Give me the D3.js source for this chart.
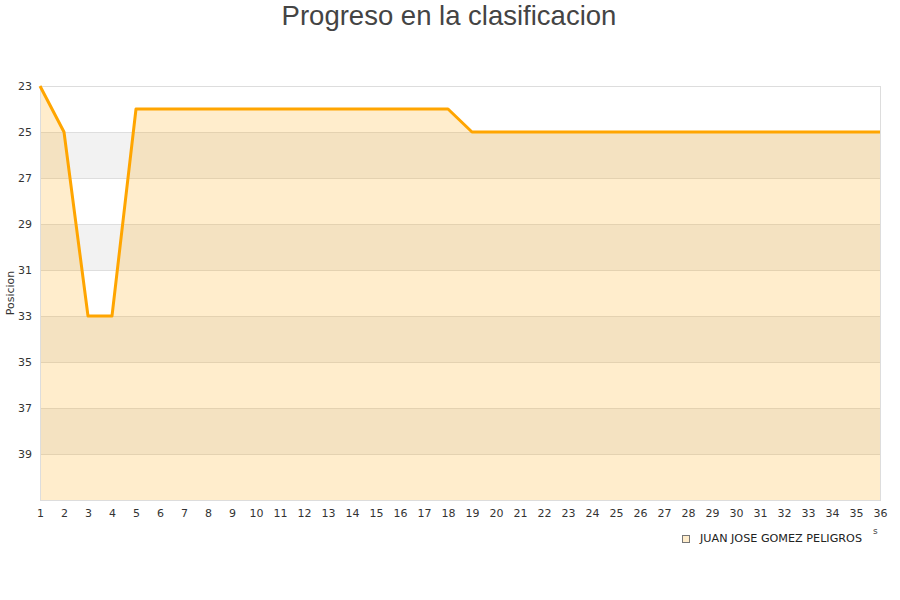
<!DOCTYPE html>
<html><head><meta charset="utf-8">
<script src="https://cdn.jsdelivr.net/npm/d3@7"></script>
<style>body{margin:0;background:#fff}</style>
</head><body>
<svg id="c" width="900" height="600"></svg>
<script>
const jornadas = d3.range(1, 37);
const posiciones = [23,25,33,33,24,24,24,24,24,24,24,24,24,24,24,24,24,24,25,25,25,25,25,25,25,25,25,25,25,25,25,25,25,25,25,25];
const yTicks = [23,25,27,29,31,33,35,37,39];
const seriesName = "JUAN JOSE GOMEZ PELIGROS";
const title = "Progreso en la clasificacion";
const yLabel = "Posicion";

const svg = d3.select("#c");
const m = {l:40, r:880, t:86, b:500};
const x = d3.scaleLinear().domain([1,36]).range([m.l, m.r]);
const y = d3.scaleLinear().domain([23,41]).range([m.t, m.b]);

// bands
const bands = d3.range(23, 41, 2);
svg.selectAll("rect.band").data(bands).enter().append("rect")
  .attr("x", m.l).attr("width", m.r - m.l)
  .attr("y", d => y(d)).attr("height", d => y(d+2) - y(d))
  .attr("fill", (d,i) => i % 2 ? "#f2f2f2" : "#ffffff");
// grid lines
svg.selectAll("line.grid").data(yTicks).enter().append("line")
  .attr("x1", m.l).attr("x2", m.r).attr("y1", d => y(d)).attr("y2", d => y(d))
  .attr("stroke", "#dedede").attr("stroke-width", 1).attr("shape-rendering","crispEdges");

const data = jornadas.map((j,i) => ({j, p: posiciones[i]}));
const area = d3.area().x(d => x(d.j)).y0(y(41)).y1(d => y(d.p));
svg.append("path").datum(data).attr("d", area).attr("fill", "rgba(255,165,0,0.2)");

// border
svg.append("rect").attr("x", m.l + 0.5).attr("y", m.t + 0.5).attr("width", m.r - m.l).attr("height", m.b - m.t)
  .attr("fill", "none").attr("stroke", "#dddddd");

const line = d3.line().x(d => x(d.j)).y(d => y(d.p));
svg.append("path").datum(data).attr("d", line).attr("fill", "none")
  .attr("stroke", "#ffa500").attr("stroke-width", 3).attr("stroke-linejoin", "round");

// axes
const yAxis = d3.axisLeft(y).tickValues(yTicks).tickSize(0).tickPadding(8);
const gy = svg.append("g").attr("transform", `translate(${m.l},0)`).call(yAxis);
gy.select(".domain").remove();
gy.selectAll("text").attr("font-family", "DejaVu Sans").attr("font-size", 11).attr("fill", "#333");

const xAxis = d3.axisBottom(x).tickValues(jornadas).tickSize(0).tickPadding(9);
const gx = svg.append("g").attr("transform", `translate(0,${m.b})`).call(xAxis);
gx.select(".domain").remove();
gx.selectAll("text").attr("font-family", "DejaVu Sans").attr("font-size", 11).attr("fill", "#333");

// title
svg.append("text").attr("x", 449).attr("y", 25).attr("text-anchor", "middle")
  .attr("font-family", "Liberation Sans, Arial, sans-serif").attr("font-size", 27.5).attr("fill", "#444").text(title);

// y label
svg.append("text").attr("transform", "translate(14,293) rotate(-90)").attr("text-anchor", "middle")
  .attr("font-family", "DejaVu Sans").attr("font-size", 11).attr("fill", "#333").text(yLabel);

// x title remnant
svg.append("text").attr("x", 873).attr("y", 534).attr("font-family", "DejaVu Sans").attr("font-size", 9).attr("fill", "#444").text("s");

// legend
svg.append("rect").attr("x", 682.5).attr("y", 535.5).attr("width", 7).attr("height", 7)
  .attr("fill", "rgba(255,165,0,0.2)").attr("stroke", "#777");
svg.append("text").attr("x", 700).attr("y", 542).attr("font-family", "DejaVu Sans").attr("font-size", 11.2)
  .attr("fill", "#222").text(seriesName);
</script>
</body></html>
